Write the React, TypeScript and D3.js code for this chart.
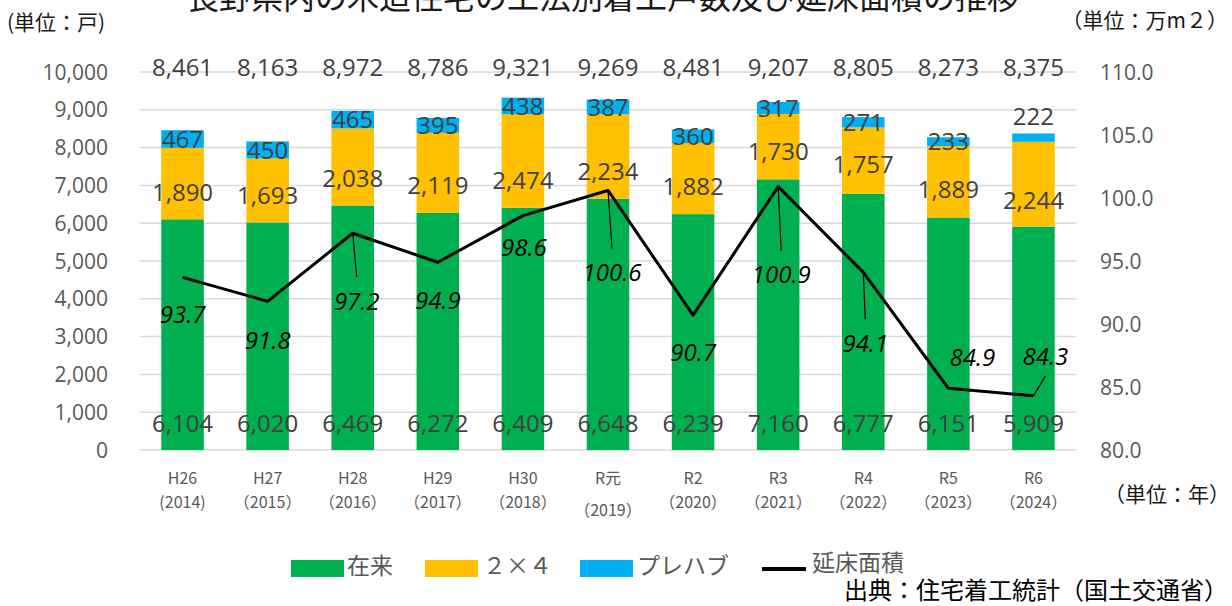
import React from "react";
import * as d3 from "d3";

const categories = ["H26", "H27", "H28", "H29", "H30", "R元", "R2", "R3", "R4", "R5", "R6"];
const years = ["(2014)", "（2015）", "（2016）", "（2017）", "（2018）", "（2019）", "（2020）", "（2021）", "（2022）", "（2023）", "（2024）"];
const zairai = [6104, 6020, 6469, 6272, 6409, 6648, 6239, 7160, 6777, 6151, 5909];
const twoByFour = [1890, 1693, 2038, 2119, 2474, 2234, 1882, 1730, 1757, 1889, 2244];
const prefab = [467, 450, 465, 395, 438, 387, 360, 317, 271, 233, 222];
const totals = [8461, 8163, 8972, 8786, 9321, 9269, 8481, 9207, 8805, 8273, 8375];
const floorArea = [93.7, 91.8, 97.2, 94.9, 98.6, 100.6, 90.7, 100.9, 94.1, 84.9, 84.3];
const leftTicks = [0, 1000, 2000, 3000, 4000, 5000, 6000, 7000, 8000, 9000, 10000];
const rightTicks = [80, 85, 90, 95, 100, 105, 110];
const legendLabels = ["在来", "２×４", "プレハブ", "延床面積"];

// layout-only label nudges (pixels)
const tbfLabelDy = [9, 5, 11, 12, 19, 15, 8, 5, 4, 8, 16];
const prefabLabelDy = [0, 0, 0, 0, 0, 0, 0, 0, 0, 0, -21];
const lineLabelOffsets: [number, number, boolean][] = [
  [0, 37, false], [0, 39, false], [4, 68, true], [0, 38, false], [1, 32, false],
  [4, 82, true], [0, 37, false], [3, 88, true], [2, 71, true], [24, -31, false], [12, -39, true],
];

const W = 1232, H = 606;
const L = 140, R = 1076, T = 72, B = 450;
const COLORS = { green: "#00B050", yellow: "#FFC000", blue: "#00B0F0" };
const FONT = "'Open Sans', 'Noto Sans CJK JP', sans-serif";
const JFONT = "'Noto Sans CJK JP', 'Open Sans', sans-serif";
const fmt = d3.format(",");

export default function App() {
  const x = d3.scaleBand<string>().domain(categories).range([L, R]).paddingInner(0.5).paddingOuter(0.25);
  const yL = d3.scaleLinear().domain([0, 10000]).range([B, T]);
  const yR = d3.scaleLinear().domain([80, 110]).range([B, T]);
  const bw = x.bandwidth();
  const cx = (i: number) => (x(categories[i]) as number) + bw / 2;

  const line = d3.line<number>().x((_, i) => cx(i)).y((d) => yR(d));

  return (
    <svg width={W} height={H} style={{ position: "absolute", left: 0, top: 0, background: "#fff" }}>
      <text x={603} y={9} textAnchor="middle" fontFamily={JFONT} fontSize={32} fill="#1a1a1a">
        長野県内の木造住宅の工法別着工戸数及び延床面積の推移
      </text>
      <text x={7} y={30} fontFamily={JFONT} fontSize={21} fill="#1a1a1a">(単位：戸)</text>
      <text x={1228} y={28} textAnchor="end" fontFamily={JFONT} fontSize={21} fill="#1a1a1a">（単位：万m２）</text>
      <text x={1230} y={502} textAnchor="end" fontFamily={JFONT} fontSize={21} fill="#1a1a1a">（単位：年）</text>

      {leftTicks.map((t) => (
        <g key={"g" + t}>
          <line x1={L} x2={R} y1={yL(t)} y2={yL(t)} stroke="#d9d9d9" strokeWidth={1.5} />
          <text x={108} y={yL(t)} dy="0.36em" textAnchor="end" fontFamily={FONT} fontSize={21} fill="#595959">{fmt(t)}</text>
        </g>
      ))}
      {rightTicks.map((t) => (
        <text key={"r" + t} x={1100} y={yR(t)} dy="0.36em" fontFamily={FONT} fontSize={21} fill="#595959">{t.toFixed(1)}</text>
      ))}

      {categories.map((c, i) => {
        const x0 = x(c) as number;
        const y1 = zairai[i];
        const y2 = y1 + twoByFour[i];
        const y3 = y2 + prefab[i];
        return (
          <g key={c}>
            <rect x={x0} width={bw} y={yL(y1)} height={yL(0) - yL(y1)} fill={COLORS.green} />
            <rect x={x0} width={bw} y={yL(y2)} height={yL(y1) - yL(y2)} fill={COLORS.yellow} />
            <rect x={x0} width={bw} y={yL(y3)} height={yL(y2) - yL(y3)} fill={COLORS.blue} />
          </g>
        );
      })}

      <path d={line(floorArea) || ""} fill="none" stroke="#000" strokeWidth={3} strokeLinejoin="round" />

      {categories.map((c, i) => {
        const y1 = zairai[i];
        const y2 = y1 + twoByFour[i];
        const y3 = y2 + prefab[i];
        const [dx, dy, leader] = lineLabelOffsets[i];
        const px = cx(i), py = yR(floorArea[i]);
        const lx = px + dx, ly = py + dy;
        const ly2 = dy > 0 ? ly - 24 : ly + 19;
        return (
          <g key={"l" + c} fontFamily={FONT}>
            <text x={cx(i)} y={yL(0) - 27} dy="0.36em" textAnchor="middle" fontSize={24} fill="#404040">{fmt(zairai[i])}</text>
            <text x={cx(i)} y={(yL(y1) + yL(y2)) / 2 + tbfLabelDy[i]} dy="0.36em" textAnchor="middle" fontSize={24} fill="#404040">{fmt(twoByFour[i])}</text>
            <text x={cx(i)} y={(yL(y2) + yL(y3)) / 2 + prefabLabelDy[i]} dy="0.36em" textAnchor="middle" fontSize={24} fill="#404040">{fmt(prefab[i])}</text>
            <text x={cx(i)} y={67} dy="0.36em" textAnchor="middle" fontSize={24} fill="#404040">{fmt(totals[i])}</text>
            {leader && <line x1={px} y1={py} x2={lx} y2={ly2} stroke="#000" strokeWidth={1.2} />}
            <text x={lx} y={ly} dy="0.36em" textAnchor="middle" fontSize={24} fontStyle="italic" fill="#000">{floorArea[i].toFixed(1)}</text>
            <text x={cx(i)} y={478} dy="0.36em" textAnchor="middle" fontSize={16} fill="#595959" fontFamily={JFONT}>{c}</text>
            <text x={cx(i)} y={i === 5 ? 510 : 502} dy="0.36em" textAnchor="middle" fontSize={16} fill="#595959" fontFamily={JFONT}>{years[i]}</text>
          </g>
        );
      })}

      <g fontFamily={JFONT} fontSize={23} fill="#595959">
        <rect x={291} y={560} width={53} height={17} fill={COLORS.green} />
        <text x={347} y={566} dy="0.36em">{legendLabels[0]}</text>
        <rect x={425} y={560} width={53} height={17} fill={COLORS.yellow} />
        <text x={483} y={566} dy="0.36em">{legendLabels[1]}</text>
        <rect x={580} y={560} width={53} height={17} fill={COLORS.blue} />
        <text x={637} y={566} dy="0.36em">{legendLabels[2]}</text>
        <line x1={762} x2={806} y1={569} y2={569} stroke="#000" strokeWidth={4} />
        <text x={812} y={563} dy="0.36em">{legendLabels[3]}</text>
      </g>
      <text x={1228} y={590} dy="0.36em" textAnchor="end" fontFamily={JFONT} fontSize={24} fill="#000">出典：住宅着工統計（国土交通省）</text>
    </svg>
  );
}
